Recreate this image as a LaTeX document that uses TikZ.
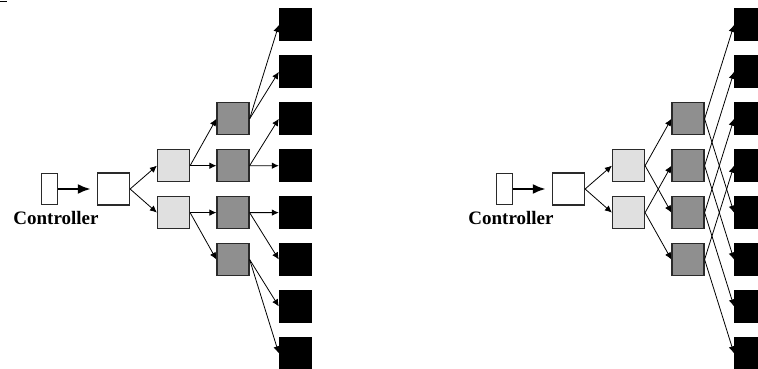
\documentclass[tikz,border=0pt]{standalone}
\usepackage{fontspec}
\setmainfont{Liberation Serif}
\usetikzlibrary{arrows.meta}
\definecolor{lgray}{HTML}{E0E0E0}
\definecolor{dgray}{HTML}{8F8F8F}
\definecolor{edge}{HTML}{2A2A2A}
\begin{document}
\begin{tikzpicture}[x=1pt,y=-1pt,
  box/.style={draw=edge, line width=1.2pt, minimum width=32pt, minimum height=32pt, inner sep=0pt},
  ctrlbox/.style={draw=edge, line width=1.2pt, fill=white, minimum width=16pt, minimum height=31pt, inner sep=0pt},
  wbox/.style={box, fill=white},
  lbox/.style={box, fill=lgray},
  dbox/.style={box, fill=dgray},
  bbox/.style={fill=black, minimum width=33pt, minimum height=33pt, inner sep=0pt},
  bboxr/.style={fill=black, minimum width=24pt, minimum height=33pt, inner sep=0pt, anchor=west},
  conn/.style={draw=black, line width=0.8pt, -{Latex[length=7pt,width=6.5pt]}},
  ctrlarrow/.style={draw=black, line width=2.8pt, -{Latex[length=13pt,width=10pt]}, shorten >=6pt},
  lbl/.style={font=\bfseries\fontsize{19}{21}\selectfont, inner sep=0pt}
]
\useasboundingbox (0,0) rectangle (758,369);
\draw[line width=1pt] (0,2) coordinate (m1) -- (7,2) coordinate (m2);

% ---------------- left diagram ----------------
\node[ctrlbox] (Lc) at (49.5,189) {};
\node[wbox] (Lw) at (113.5,189) {};
\node[lbl] (Llbl) at (56,218) {Controller};
\node[lbox] (Ll1) at (173.5,165.7) {};
\node[lbox] (Ll2) at (173.5,212.6) {};
\foreach \i/\y in {1/118.8,2/165.7,3/212.6,4/259.5}
  \node[dbox] (Ld\i) at (233,\y) {};
\foreach \i in {1,...,8}
  \node[bbox] (Lb\i) at (295.5,{25+46.9*(\i-1)}) {};

\draw[ctrlarrow] (Lc.east) -- (Lw.west);
\draw[conn] (Lw.east) -- (Ll1.west);
\draw[conn] (Lw.east) -- (Ll2.west);
\draw[conn] (Ll1.east) -- (Ld1.west);
\draw[conn] (Ll1.east) -- (Ld2.west);
\draw[conn] (Ll2.east) -- (Ld3.west);
\draw[conn] (Ll2.east) -- (Ld4.west);
\draw[conn] (Ld1.east) -- (Lb1.west);
\draw[conn] (Ld1.east) -- (Lb2.west);
\draw[conn] (Ld2.east) -- (Lb3.west);
\draw[conn] (Ld2.east) -- (Lb4.west);
\draw[conn] (Ld3.east) -- (Lb5.west);
\draw[conn] (Ld3.east) -- (Lb6.west);
\draw[conn] (Ld4.east) -- (Lb7.west);
\draw[conn] (Ld4.east) -- (Lb8.west);

% ---------------- right diagram ----------------
\node[ctrlbox] (Rc) at (504.5,189) {};
\node[wbox] (Rw) at (568.5,189) {};
\node[lbl] (Rlbl) at (511,218) {Controller};
\node[lbox] (Rl1) at (628.5,165.7) {};
\node[lbox] (Rl2) at (628.5,212.6) {};
\foreach \i/\y in {1/118.8,2/165.7,3/212.6,4/259.5}
  \node[dbox] (Rd\i) at (688,\y) {};
\foreach \i in {1,...,8}
  \node[bboxr] (Rb\i) at (734,{25+46.9*(\i-1)}) {};

\draw[ctrlarrow] (Rc.east) -- (Rw.west);
\draw[conn] (Rw.east) -- (Rl1.west);
\draw[conn] (Rw.east) -- (Rl2.west);
\draw[conn] (Rl1.east) -- (Rd1.west);
\draw[conn] (Rl1.east) -- (Rd3.west);
\draw[conn] (Rl2.east) -- (Rd2.west);
\draw[conn] (Rl2.east) -- (Rd4.west);
\foreach \i [evaluate=\i as \j using int(\i+4)] in {1,...,4} {
  \draw[conn] (Rd\i.east) -- (Rb\i.west);
  \draw[conn] (Rd\i.east) -- (Rb\j.west);
}
\end{tikzpicture}
\end{document}
